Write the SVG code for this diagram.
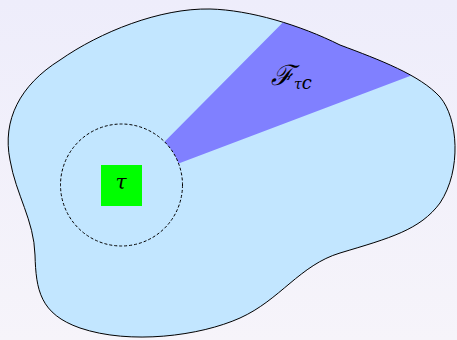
<svg xmlns="http://www.w3.org/2000/svg" width="457" height="340" viewBox="0 0 457 340">
<defs>
<linearGradient id="bg" x1="0" y1="0" x2="0" y2="1">
<stop offset="0" stop-color="#eeedfb"/>
<stop offset="1" stop-color="#f6f4fa"/>
</linearGradient>
<clipPath id="blobclip"><path id="blobpath" d="M 10,160 C 2,120 20,85 60,60 C 100,32 160,8 210,9 C 250,10 300,25 340,45 C 380,60 420,75 440,97 C 458,118 462,170 440,203 C 420,230 390,238 340,253 C 300,265 280,300 240,318 C 200,336 130,345 80,328 C 40,314 36,290 35,255 C 34,220 16,195 10,160 Z"/></clipPath>
<style>
.txt{font-family:"DejaVu Serif","Liberation Serif",serif;font-style:italic;fill:#000}
</style>
</defs>
<rect width="457" height="340" fill="url(#bg)"/>
<g id="region">
<use href="#blobpath" fill="#c2e6ff" stroke="none"/>
</g>
<g id="cone" clip-path="url(#blobclip)">
<path d="M 164.5,141.7 L 403.3,-98.8 L 495.7,43.6 L 178.6,163.4 A 61 61 0 0 0 164.5,141.7 Z" fill="#8080ff"/>
</g>
<g id="outline">
<use href="#blobpath" fill="none" stroke="#000" stroke-width="1"/>
</g>
<g id="neighbourhood">
<circle cx="121.5" cy="185" r="61" fill="none" stroke="#000" stroke-width="1" stroke-dasharray="3,2"/>
</g>
<g id="tau">
<rect x="101" y="165" width="41" height="41" fill="#00ff00"/>
<text class="txt" x="121" y="189" font-size="20" text-anchor="middle">τ</text>
</g>
<g id="label">
<text class="txt" x="271" y="85" font-size="28" font-style="normal" font-family="DejaVu Sans, sans-serif">ℱ<tspan class="txt" font-size="14" dy="4">τ</tspan><tspan class="txt" font-size="18">c</tspan></text>
</g>
</svg>
